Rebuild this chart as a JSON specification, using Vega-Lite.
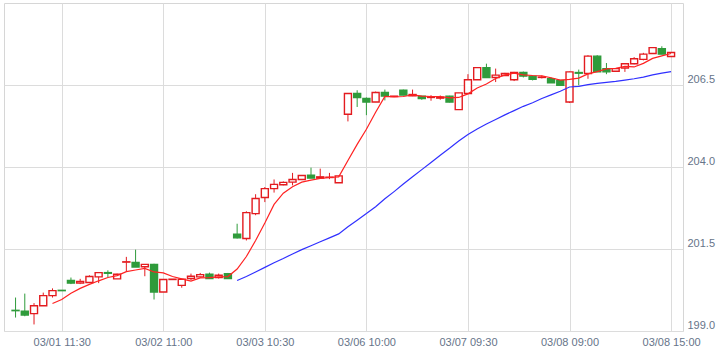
{
"$schema":"https://vega.github.io/schema/vega-lite/v6.json",
"width":679,"height":328,
"autosize":{"type":"none"},
"padding":{"left":4,"top":3,"right":35,"bottom":19},
"config":{"view":{"stroke":"#d6d6d6","strokeWidth":1},"font":"Liberation Sans",
 "axis":{"labelFont":"Liberation Sans","labelFontSize":11,"labelColor":"#667489","gridColor":"#dcdcdc","gridWidth":1,"ticks":false,"domain":false,"title":null}},
"data":{"values":[
{"i":0,"open":199.63,"high":200.02,"low":199.41,"close":199.62},
{"i":1,"open":199.60,"high":200.14,"low":199.45,"close":199.49},
{"i":2,"open":199.53,"high":199.85,"low":199.20,"close":199.77},
{"i":3,"open":199.77,"high":200.17,"low":199.77,"close":200.08},
{"i":4,"open":200.08,"high":200.30,"low":200.02,"close":200.23,"ma5":199.84},
{"i":5,"open":200.24,"high":200.24,"low":200.23,"close":200.23,"ma5":199.96},
{"i":6,"open":200.54,"high":200.63,"low":200.43,"close":200.46,"ma5":200.15},
{"i":7,"open":200.46,"high":200.59,"low":200.43,"close":200.51,"ma5":200.30},
{"i":8,"open":200.48,"high":200.70,"low":200.48,"close":200.66,"ma5":200.42},
{"i":9,"open":200.65,"high":200.78,"low":200.46,"close":200.78,"ma5":200.53},
{"i":10,"open":200.78,"high":200.85,"low":200.64,"close":200.76,"ma5":200.63},
{"i":11,"open":200.59,"high":200.75,"low":200.59,"close":200.73,"ma5":200.69},
{"i":12,"open":201.10,"high":201.26,"low":200.80,"close":201.11,"ma5":200.81},
{"i":13,"open":201.09,"high":201.48,"low":200.95,"close":200.95,"ma5":200.86},
{"i":14,"open":200.96,"high":201.03,"low":200.67,"close":201.03,"ma5":200.91},
{"i":15,"open":201.03,"high":201.05,"low":199.96,"close":200.19,"ma5":200.80},
{"i":16,"open":200.19,"high":200.57,"low":200.19,"close":200.57,"ma5":200.77},
{"i":17,"open":200.57,"high":200.58,"low":200.57,"close":200.58,"ma5":200.66},
{"i":18,"open":200.39,"high":200.58,"low":200.32,"close":200.58,"ma5":200.59},
{"i":19,"open":200.60,"high":200.75,"low":200.55,"close":200.67,"ma5":200.52},
{"i":20,"open":200.65,"high":200.77,"low":200.63,"close":200.72,"ma5":200.62},
{"i":21,"open":200.73,"high":200.78,"low":200.60,"close":200.60,"ma5":200.63},
{"i":22,"open":200.63,"high":200.75,"low":200.60,"close":200.70,"ma5":200.65},
{"i":23,"open":200.75,"high":200.77,"low":200.60,"close":200.60,"ma5":200.66},
{"i":24,"open":201.95,"high":202.27,"low":201.82,"close":201.84,"ma5":200.89,"ma25":200.54},
{"i":25,"open":201.82,"high":202.65,"low":201.76,"close":202.61,"ma5":201.27,"ma25":200.66},
{"i":26,"open":202.58,"high":203.17,"low":202.53,"close":203.04,"ma5":201.76,"ma25":200.80},
{"i":27,"open":203.07,"high":203.39,"low":202.93,"close":203.34,"ma5":202.29,"ma25":200.94},
{"i":28,"open":203.34,"high":203.62,"low":203.22,"close":203.47,"ma5":202.86,"ma25":201.08},
{"i":29,"open":203.46,"high":203.56,"low":203.44,"close":203.53,"ma5":203.20,"ma25":201.21},
{"i":30,"open":203.54,"high":203.82,"low":203.44,"close":203.62,"ma5":203.40,"ma25":201.35},
{"i":31,"open":203.62,"high":203.74,"low":203.62,"close":203.74,"ma5":203.54,"ma25":201.48},
{"i":32,"open":203.75,"high":203.98,"low":203.66,"close":203.66,"ma5":203.60,"ma25":201.60},
{"i":33,"open":203.66,"high":203.95,"low":203.65,"close":203.70,"ma5":203.65,"ma25":201.72},
{"i":34,"open":203.68,"high":203.82,"low":203.63,"close":203.69,"ma5":203.68,"ma25":201.84},
{"i":35,"open":203.52,"high":203.73,"low":203.52,"close":203.73,"ma5":203.70,"ma25":201.96},
{"i":36,"open":205.61,"high":206.25,"low":205.39,"close":206.24,"ma5":204.20,"ma25":202.18},
{"i":37,"open":206.24,"high":206.34,"low":205.83,"close":206.12,"ma5":204.69,"ma25":202.38},
{"i":38,"open":206.09,"high":206.12,"low":205.58,"close":205.98,"ma5":205.15,"ma25":202.58},
{"i":39,"open":205.98,"high":206.30,"low":205.98,"close":206.27,"ma5":205.67,"ma25":202.79},
{"i":40,"open":206.27,"high":206.36,"low":206.03,"close":206.16,"ma5":206.15,"ma25":203.03},
{"i":41,"open":206.15,"high":206.16,"low":206.15,"close":206.16,"ma5":206.14,"ma25":203.25},
{"i":42,"open":206.34,"high":206.36,"low":206.19,"close":206.19,"ma5":206.15,"ma25":203.48},
{"i":43,"open":206.17,"high":206.36,"low":206.16,"close":206.21,"ma5":206.20,"ma25":203.70},
{"i":44,"open":206.16,"high":206.16,"low":206.05,"close":206.09,"ma5":206.16,"ma25":203.92},
{"i":45,"open":206.12,"high":206.19,"low":206.02,"close":206.13,"ma5":206.15,"ma25":204.14},
{"i":46,"open":206.10,"high":206.18,"low":206.05,"close":206.13,"ma5":206.15,"ma25":204.36},
{"i":47,"open":206.16,"high":206.17,"low":205.97,"close":205.98,"ma5":206.11,"ma25":204.57},
{"i":48,"open":205.75,"high":206.26,"low":205.75,"close":206.26,"ma5":206.12,"ma25":204.79},
{"i":49,"open":206.24,"high":206.83,"low":206.24,"close":206.66,"ma5":206.23,"ma25":204.99},
{"i":50,"open":206.66,"high":207.03,"low":206.66,"close":207.03,"ma5":206.41,"ma25":205.16},
{"i":51,"open":207.03,"high":207.15,"low":206.73,"close":206.73,"ma5":206.53,"ma25":205.31},
{"i":52,"open":206.73,"high":207.00,"low":206.59,"close":206.80,"ma5":206.70,"ma25":205.45},
{"i":53,"open":206.79,"high":206.87,"low":206.79,"close":206.85,"ma5":206.81,"ma25":205.59},
{"i":54,"open":206.66,"high":206.90,"low":206.62,"close":206.88,"ma5":206.86,"ma25":205.72},
{"i":55,"open":206.88,"high":206.91,"low":206.73,"close":206.77,"ma5":206.81,"ma25":205.85},
{"i":56,"open":206.77,"high":206.77,"low":206.64,"close":206.67,"ma5":206.79,"ma25":205.96},
{"i":57,"open":206.73,"high":206.79,"low":206.70,"close":206.74,"ma5":206.78,"ma25":206.09},
{"i":58,"open":206.69,"high":206.73,"low":206.57,"close":206.57,"ma5":206.72,"ma25":206.20},
{"i":59,"open":206.64,"high":206.64,"low":206.49,"close":206.49,"ma5":206.65,"ma25":206.31},
{"i":60,"open":205.98,"high":206.91,"low":205.95,"close":206.90,"ma5":206.67,"ma25":206.44},
{"i":61,"open":206.88,"high":206.97,"low":206.49,"close":206.86,"ma5":206.71,"ma25":206.46},
{"i":62,"open":206.85,"high":207.41,"low":206.69,"close":207.38,"ma5":206.84,"ma25":206.51},
{"i":63,"open":207.38,"high":207.41,"low":206.90,"close":206.90,"ma5":206.91,"ma25":206.55},
{"i":64,"open":207.00,"high":207.17,"low":206.83,"close":206.90,"ma5":206.99,"ma25":206.58},
{"i":65,"open":206.92,"high":207.01,"low":206.90,"close":207.00,"ma5":207.01,"ma25":206.61},
{"i":66,"open":207.02,"high":207.16,"low":206.90,"close":207.15,"ma5":207.07,"ma25":206.65},
{"i":67,"open":207.15,"high":207.35,"low":207.13,"close":207.30,"ma5":207.05,"ma25":206.69},
{"i":68,"open":207.28,"high":207.48,"low":207.25,"close":207.44,"ma5":207.16,"ma25":206.74},
{"i":69,"open":207.46,"high":207.64,"low":207.46,"close":207.64,"ma5":207.31,"ma25":206.81},
{"i":70,"open":207.61,"high":207.68,"low":207.44,"close":207.44,"ma5":207.39,"ma25":206.86},
{"i":71,"open":207.37,"high":207.50,"low":207.37,"close":207.49,"ma5":207.46,"ma25":206.91}
]},
"encoding":{"x":{"field":"i","type":"quantitative","scale":{"domain":[-0.71,71.75],"nice":false,"zero":false},
 "axis":{"values":[5,16,27,38,49,60,71],"labelPadding":5,"labelFlush":false,"labelOverlap":false,
 "labelExpr":"datum.value==5?'03/01 11:30':datum.value==16?'03/02 11:00':datum.value==27?'03/03 10:30':datum.value==38?'03/06 10:00':datum.value==49?'03/07 09:30':datum.value==60?'03/08 09:00':'03/08 15:00'"}}},
"layer":[
{"mark":{"type":"rule","strokeWidth":1},
 "encoding":{"y":{"field":"low","type":"quantitative","scale":{"domain":[199,209],"nice":false,"zero":false},
   "axis":{"orient":"right","values":[199,201.5,204,206.5],"format":".1f","labelPadding":4,"labelAlign":"left","labelBaseline":"alphabetic","labelOffset":-3,"title":null}},
  "y2":{"field":"high"},
  "color":{"condition":{"test":"datum.close > datum.open","value":"#e31b1f"},"value":"#2f9b3b"}}},
{"mark":{"type":"bar","size":7,"strokeWidth":1.4},
 "encoding":{"y":{"field":"open","type":"quantitative","title":null},"y2":{"field":"close"},
  "fill":{"condition":{"test":"datum.close > datum.open","value":"#ffffff"},"value":"#2f9b3b"},
  "stroke":{"condition":{"test":"datum.close > datum.open","value":"#e31b1f"},"value":"#2f9b3b"}}},
{"mark":{"type":"line","color":"#ff2222","strokeWidth":1.2},
 "encoding":{"y":{"field":"ma5","type":"quantitative","title":null}}},
{"mark":{"type":"line","color":"#3030ff","strokeWidth":1.2},
 "encoding":{"y":{"field":"ma25","type":"quantitative","title":null}}}
]
}
